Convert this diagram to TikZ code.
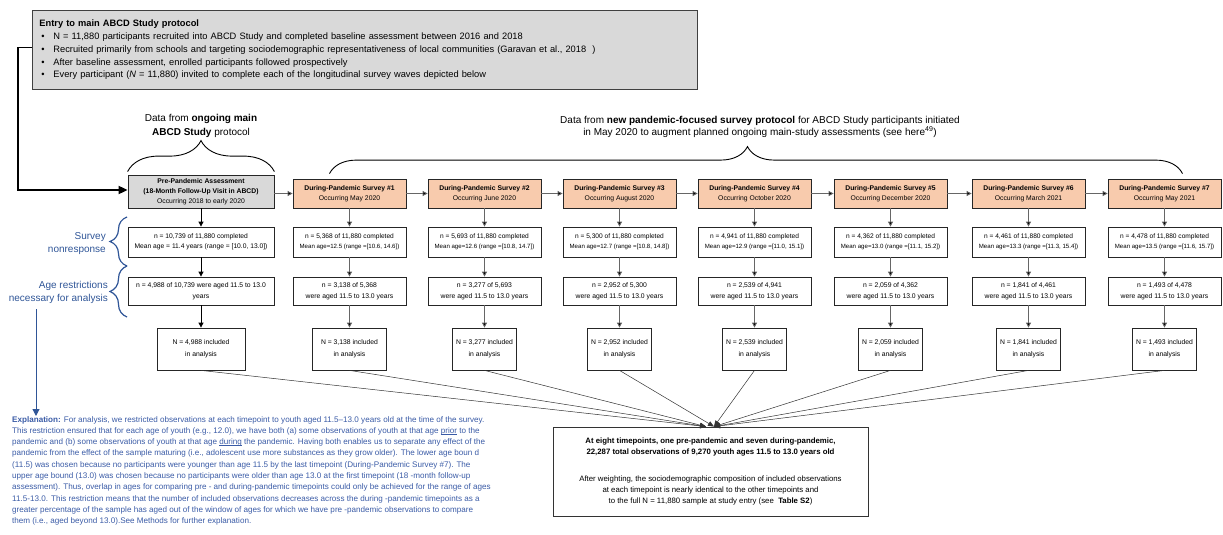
\documentclass[tikz,border=0pt]{standalone}
\usepackage{fontspec}
\setmainfont{Liberation Sans}
\usetikzlibrary{arrows.meta,decorations.pathreplacing,calc}
\definecolor{orng}{HTML}{F8CBAD}
\definecolor{grayf}{HTML}{D9D9D9}
\definecolor{lblue}{HTML}{2F5597}
\definecolor{eblue}{HTML}{3A5BA6}
\newcommand{\fs}[2]{\fontsize{#1}{#2}\selectfont}
\newcommand{\bul}{\makebox[14pt][l]{\hspace{2pt}\textbullet}}
\newcommand{\myul}[1]{\setbox0\hbox{#1}\rlap{\rule[-1.3pt]{\wd0}{0.5pt}}#1}
\newcommand{\survcol}[8]{%
  \node[hdr] (s#1) at (#2,193.5) {\textbf{During-Pandemic Survey \##1}\\Occurring #3};
  \node[rowb, minimum width=113pt] (s#1b) at (#2,242) {n = #4 of 11,880 completed\\{\fs{6.1}{10}Mean age=#5}};
  \node[rowc, minimum width=113pt] (s#1c) at (#2,291) {n = #6\\were aged 11.5 to 13.0 years};
  \node[rowd, minimum width=#8pt] (s#1d) at (#2,349) {N = #7 included\\in analysis};
  \draw[garr] (s#1) -- (s#1b);
  \draw[garr] (s#1b) -- (s#1c);
  \draw[garr] (s#1c) -- (s#1d);
}
\begin{document}
\begin{tikzpicture}[x=1pt,y=-1pt,
  box/.style={draw=black!85, line width=0.8pt, inner sep=0pt, align=center},
  hdr/.style={box, fill=orng, minimum width=113pt, minimum height=29pt, font=\fs{6.8}{10}},
  rowb/.style={box, fill=white, minimum height=30pt, font=\fs{6.6}{10}},
  rowc/.style={box, fill=white, minimum height=28pt, font=\fs{6.8}{11}},
  rowd/.style={box, fill=white, minimum height=42pt, font=\fs{6.8}{12}},
  garr/.style={draw=black!60, line width=0.8pt, -{Triangle[length=5pt,width=5pt,fill=black]}},
  barr/.style={draw=black, line width=0.8pt, -{Triangle[length=5pt,width=5pt]}},
  carr/.style={draw=black!80, line width=0.5pt, -{Triangle[length=6pt,width=5pt]}},
  mainconn/.style={draw=black, line width=1.8pt, -{Triangle[length=9pt,width=8pt]}},
  brc/.style={draw=black, line width=0.9pt, decorate},
  lbrc/.style={draw=lblue, line width=1.2pt, decorate, decoration={brace, amplitude=17pt}},
  lbl/.style={text=lblue, align=right, inner sep=0pt, font=\fs{10}{13.5}}
]
\useasboundingbox (0,0) rectangle (1223,535);

% top entry box
\node[draw=black!75, line width=0.8pt, fill=grayf, anchor=north west, minimum width=665pt,
      minimum height=79pt, text width=651pt, inner xsep=7pt, inner ysep=0pt, align=left, font=\fs{9.3}{12.7}]
  (topbox) at (32,10) {%
  \textbf{Entry to main ABCD Study protocol}\\
  \bul N = 11,880 participants recruited into ABCD Study and completed baseline assessment between 2016 and 2018\\
  \bul Recruited primarily from schools and targeting sociodemographic representativeness of local communities (Garavan et al., 2018~~)\\
  \bul After baseline assessment, enrolled participants followed prospectively\\
  \bul Every participant (\textit{N} = 11,880) invited to complete each of the longitudinal survey waves depicted below};

% header texts
\node[align=center, inner sep=0pt, font=\fs{10}{14}] (hdrpre) at (201,126)
  {Data from \textbf{ongoing main}\\\textbf{ABCD Study} protocol};
\node[align=center, inner sep=0pt, font=\fs{10}{12}] (hdrpan) at (760,127)
  {Data from \textbf{new pandemic-focused survey protocol} for ABCD Study participants initiated\\
   in May 2020 to augment planned ongoing main-study assessments (see here\textsuperscript{49})};

% pre-pandemic column
\node[box, fill=grayf, minimum width=146pt, minimum height=33pt, font=\fs{6.8}{10}] (pre) at (201,191.5)
  {\textbf{Pre-Pandemic Assessment}\\\textbf{(18-Month Follow-Up Visit in ABCD)}\\Occurring 2018 to early 2020};
\node[rowb, minimum width=146pt, font=\fs{6.7}{10}] (preb) at (201,242)
  {n = 10,739 of 11,880 completed\\Mean age = 11.4 years (range = [10.0, 13.0])};
\node[rowc, minimum width=146pt] (prec) at (201,291)
  {n = 4,988 of 10,739 were aged 11.5 to 13.0\\years};
\node[rowd, minimum width=88pt] (pred) at (201,349) {N = 4,988 included\\in analysis};
\draw[barr] (pre) -- (preb);
\draw[barr] (preb) -- (prec);
\draw[barr] (prec) -- (pred);

% survey columns
\survcol{1}{349.5}{May 2020}{5,368}{12.5 (range =[10.6, 14.6])}{3,138 of 5,368}{3,138}{74}
\survcol{2}{484.5}{June 2020}{5,693}{12.6 (range =[10.8, 14.7])}{3,277 of 5,693}{3,277}{64}
\survcol{3}{619.5}{August 2020}{5,300}{12.7 (range =[10.8, 14.8])}{2,952 of 5,300}{2,952}{64}
\survcol{4}{754.5}{October 2020}{4,941}{12.9 (range =[11.0, 15.1])}{2,539 of 4,941}{2,539}{64}
\survcol{5}{890.5}{December 2020}{4,362}{13.0 (range =[11.1, 15.2])}{2,059 of 4,362}{2,059}{64}
\survcol{6}{1028.5}{March 2021}{4,461}{13.3 (range =[11.3, 15.4])}{1,841 of 4,461}{1,841}{64}
\survcol{7}{1164.5}{May 2021}{4,478}{13.5 (range =[11.6, 15.7])}{1,493 of 4,478}{1,493}{64}

% horizontal arrows
\draw[garr] (pre.east |- s1.west) -- (s1.west);
\foreach \a/\b in {1/2,2/3,3/4,4/5,5/6,6/7}
  \draw[garr] (s\a.east) -- (s\b.west);

% main entry connector
\coordinate (elbow) at (18,190);
\draw[mainconn] ($(topbox.north west)+(0,37.5)$) -| (elbow) -- (elbow -| pre.west);

% braces
\draw[brc, decoration={brace, amplitude=31pt}] ([yshift=3pt]pre.north west) -- ([yshift=3pt]pre.north east);
\draw[brc, decoration={brace, amplitude=27pt, aspect=0.49}] ([xshift=-20pt,yshift=5pt]s1.north) -- ([xshift=18pt,yshift=5pt]s7.north);

% left labels and braces
\coordinate (lb1) at (127,217);
\coordinate (lb2) at (127,266);
\coordinate (lb3) at (127,317);
\draw[lbrc] (lb2) -- (lb1);
\draw[lbrc] (lb3) -- (lb2);
\node[lbl, anchor=east] (survlbl) at (106,243.5) {Survey\\nonresponse};
\node[lbl, anchor=east] (agelbl) at (108,292.5) {Age restrictions\\necessary for analysis};

% explanation
\node[anchor=north west, align=left, inner sep=0pt, text=eblue, font=\fs{8.1}{11.3}] (expl) at (12,416) {%
\textbf{Explanation:} For analysis, we restricted observations at each timepoint to youth aged 11.5--13.0 years old at the time of the survey.\\
This restriction ensured that for each age of youth (e.g., 12.0), we have both (a) some observations of youth at that age \myul{prior} to the\\
pandemic and (b) some observations of youth at that age \myul{during} the pandemic. Having both enables us to separate any effect of the\\
pandemic from the effect of the sample maturing (i.e., adolescent use more substances as they grow older). The lower age boun d\\
(11.5) was chosen because no participants were younger than age 11.5 by the last timepoint (During-Pandemic Survey \#7). The\\
upper age bound (13.0) was chosen because no participants were older than age 13.0 at the first timepoint (18 -month follow-up\\
assessment). Thus, overlap in ages for comparing pre - and during-pandemic timepoints could only be achieved for the range of ages\\
11.5-13.0. This restriction means that the number of included observations decreases across the during -pandemic timepoints as a\\
greater percentage of the sample has aged out of the window of ages for which we have pre -pandemic observations to compare\\
them (i.e., aged beyond 13.0).See Methods for further explanation.};
\coordinate (bx) at (36,0);
\draw[draw=lblue, line width=1pt, -{Triangle[length=7pt,width=7pt]}] (agelbl.south -| bx) ++(0,5) -- (expl.north -| bx);

% final box
\node[box, draw=black!80, fill=white, minimum width=315pt, minimum height=89pt, font=\fs{7.8}{11}] (final) at (710.5,471.5)
  {\textbf{At eight timepoints, one pre-pandemic and seven during-pandemic,}\\
   \textbf{22,287 total observations of 9,270 youth ages 11.5 to 13.0 years old}\\[16pt]
   After weighting, the sociodemographic composition of included observations\\
   at each timepoint is nearly identical to the other timepoints and\\
   to the full N = 11,880 sample at study entry (see~ \textbf{Table S2})};
\coordinate (tgtL) at ($(final.north)+(-4.5,0)$);
\coordinate (tgtR) at ($(final.north)+(3.5,0)$);
\foreach \n in {pred,s1d,s2d}
  \draw[carr] (\n.south) -- (tgtL);
\foreach \n in {s3d,s4d,s5d,s6d,s7d}
  \draw[carr] (\n.south) -- (tgtR);
\end{tikzpicture}
\end{document}
